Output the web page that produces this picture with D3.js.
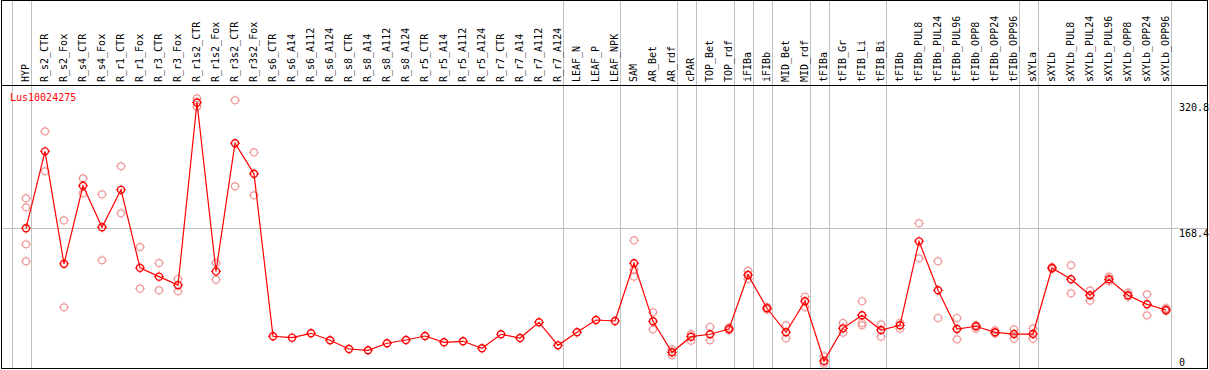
<!DOCTYPE html>
<html>
<head>
<meta charset="utf-8">
<script src="https://cdn.jsdelivr.net/npm/d3@7"></script>
<style>
  body { margin: 0; background: #fff; }
  svg { display: block; }
  text { font-family: "DejaVu Sans Mono", monospace; font-size: 10px; }
</style>
</head>
<body>
<div id="chart"></div>
<script>
const categories = [
  "HYP", "R_s2_CTR", "R_s2_Fox", "R_s4_CTR", "R_s4_Fox", "R_r1_CTR", "R_r1_Fox", "R_r3_CTR", "R_r3_Fox",
  "R_r1s2_CTR", "R_r1s2_Fox", "R_r3s2_CTR", "R_r3s2_Fox", "R_s6_CTR", "R_s6_A14", "R_s6_A112", "R_s6_A124",
  "R_s8_CTR", "R_s8_A14", "R_s8_A112", "R_s8_A124", "R_r5_CTR", "R_r5_A14", "R_r5_A112", "R_r5_A124",
  "R_r7_CTR", "R_r7_A14", "R_r7_A112", "R_r7_A124", "LEAF_N", "LEAF_P", "LEAF_NPK", "SAM", "AR_Bet", "AR_rdf",
  "cPAR", "TOP_Bet", "TOP_rdf", "iFIBa", "iFIBb", "MID_Bet", "MID_rdf", "tFIBa", "tFIB_Gr", "tFIB_Li",
  "tFIB_Bi", "tFIBb", "tFIBb_PUL8", "tFIBb_PUL24", "tFIBb_PUL96", "tFIBb_OPP8", "tFIBb_OPP24", "tFIBb_OPP96",
  "sXYLa", "sXYLb", "sXYLb_PUL8", "sXYLb_PUL24", "sXYLb_PUL96", "sXYLb_OPP8", "sXYLb_OPP24", "sXYLb_OPP96"
];

// mean expression per sample
const means = [
  168.4, 261.6, 125.4, 219.9, 169.6, 215, 120.5, 109.8, 99.5, 320.8, 116.2, 271.4, 234.4,
  37.6, 35.9, 41.2, 32.7, 22.2, 20.6, 29.1, 33.1, 37.9, 30.3, 31.5, 23, 40, 35.5, 54.5, 26.6,
  42.4, 57.3, 56.1,
  126, 55.7, 18.2, 37.1, 40, 46.4, 111.8, 71.5, 42.4, 80, 7.6, 47.2, 63, 45.2, 50.9,
  152.6, 93.3, 46.4, 49.7, 42.4, 40.3, 40.3, 120.3, 106.6, 87.2, 106.6, 87.2, 76.3, 69.4
];

// individual replicates per sample
const replicates = [
  [204.7, 193.8, 149, 128.4], [285.9, 237.4], [178, 72.7], [229, 210.8], [209.6, 129.6],
  [243.5, 186.6], [145.7, 95.2], [126.3, 93.3], [107, 92], [325.9, 315.7], [126.3, 106.1],
  [323.4, 219.3], [260.4, 208.4],
  [], [], [], [], [], [], [], [], [], [], [], [], [], [], [], [], [], [], [],
  [153.8, 118.2, 109.8], [66.6, 46], [21.8, 14.5], [40.3, 32.2], [48.8, 32.7], [48, 44.8],
  [116.7, 107], [73, 70], [50.9, 35.1], [85.5, 73], [13.3, 4.4], [53.7, 41.9], [80, 53.7, 50.9],
  [52, 37.1], [54, 46.8],
  [174.4, 132], [128.4, 59.7], [59.7, 33.9], [50.9, 46.8], [44.9, 41], [46, 34.7], [47.2, 34.7],
  [121.5, 119], [123.6, 89.6], [92.8, 80.7], [109.8, 104.2], [90.4, 85.5], [88.4, 63], [71.8, 68.2]
];

// group separators drawn after these sample indices
const separators = [-1, 0, 28, 31, 34, 35, 37, 38, 39, 41, 42, 45, 52, 53, 60];

const yTicks = [0, 168.4, 320.8];
const yMax = 336.8;
const geneName = "Lus10024275";

const width = 1209;
const height = 370;
const headerBottom = 85;

const svg = d3.select("#chart").append("svg").attr("width", width).attr("height", height);

const x = d3.scalePoint().domain(categories).range([26, 26 + 19 * (categories.length - 1)]);
const y = d3.scaleLinear().domain([0, yMax]).range([367.3, 89.3]);
const step = x.step();

// gray grid
const grid = svg.append("g").attr("stroke", "#c0c0c0").attr("shape-rendering", "crispEdges");
grid.selectAll("line.v")
  .data(separators)
  .join("line")
  .attr("class", "v")
  .attr("x1", (k) => Math.round(x(categories[0]) + step * k + 5) + 0.5)
  .attr("x2", (k) => Math.round(x(categories[0]) + step * k + 5) + 0.5)
  .attr("y1", 0)
  .attr("y2", height - 1);
grid.append("line")
  .attr("x1", 1).attr("x2", width - 1)
  .attr("y1", Math.round(y(yTicks[1])) + 0.5)
  .attr("y2", Math.round(y(yTicks[1])) + 0.5);

// frame and header rule
const frame = svg.append("g").attr("stroke", "#000").attr("shape-rendering", "crispEdges");
frame.append("rect").attr("x", 1.5).attr("y", 0.5).attr("width", width - 3).attr("height", height - 2).attr("fill", "none");
frame.append("line").attr("x1", 1).attr("x2", width - 1).attr("y1", headerBottom + 0.5).attr("y2", headerBottom + 0.5);

// rotated sample labels
svg.append("g")
  .selectAll("text")
  .data(categories)
  .join("text")
  .attr("transform", (d) => `translate(${x(d) + 3},82) rotate(-90)`)
  .attr("fill", "#000")
  .text((d) => d);

// y labels on the right
svg.append("g")
  .selectAll("text")
  .data(yTicks)
  .join("text")
  .attr("x", 1179)
  .attr("y", (d) => (d === 0 ? 366 : y(d) + 8.5))
  .attr("fill", "#000")
  .text((d) => d);

svg.append("text").attr("x", 10).attr("y", 101).attr("fill", "#ff0000").text(geneName);

// circle with tiny stubs, like the bitmap marker
function marker(g, data, color, sw) {
  g.selectAll("circle")
    .data(data)
    .join("circle")
    .attr("cx", (d) => d.cx)
    .attr("cy", (d) => d.cy)
    .attr("r", 3.5)
    .attr("fill", "none")
    .attr("stroke", color)
    .attr("stroke-width", sw);
  g.selectAll("path")
    .data(data)
    .join("path")
    .attr("d", (d) => `M${d.cx},${d.cy - 5}v1M${d.cx},${d.cy + 4}v1M${d.cx - 5},${d.cy}h1M${d.cx + 4},${d.cy}h1`)
    .attr("stroke", color)
    .attr("stroke-width", 1);
}

const reps = categories.flatMap((c, i) => replicates[i].map((v) => ({ cx: x(c), cy: y(v) })));
marker(svg.append("g"), reps, "#f09a9a", 1.2);

const line = d3.line().x((d, i) => x(categories[i])).y((d) => y(d));
svg.append("path")
  .datum(means)
  .attr("d", line)
  .attr("fill", "none")
  .attr("stroke", "#ff0000")
  .attr("stroke-width", 1.2);

marker(svg.append("g"), means.map((v, i) => ({ cx: x(categories[i]), cy: y(v) })), "#ff0000", 1.4);
</script>
</body>
</html>
